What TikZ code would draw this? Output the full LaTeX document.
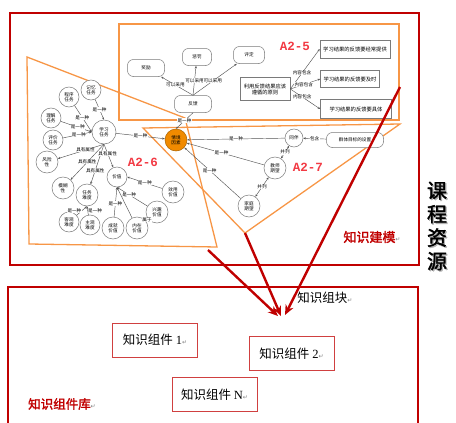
\documentclass[tikz,border=0pt]{standalone}
\usepackage{fontspec}
\setmainfont{Noto Sans CJK SC}
\newfontfamily\numfont{Liberation Serif}
\newfontfamily\tagfont{Liberation Mono}
\newfontfamily\boldcjk{Noto Sans CJK SC}[FakeBold=2]
\newfontfamily\symfont{DejaVu Sans}
\usetikzlibrary{arrows.meta,backgrounds}

\definecolor{frame}{HTML}{C00000}
\definecolor{zone}{HTML}{F79646}
\definecolor{tagred}{HTML}{F23A44}
\definecolor{hub}{HTML}{F08A00}
\definecolor{edgegray}{HTML}{555555}
\definecolor{ringgray}{HTML}{7A7A7A}

\newcommand\nodefont{\fontsize{4.6}{5.3}\selectfont}
\newcommand\boxfont{\fontsize{5.3}{6}\selectfont}
\newcommand\retmark{{\symfont\color{gray}\fontsize{6}{6}\selectfont ↵}}

\tikzset{
  circ/.style={circle, draw=ringgray, line width=0.5pt, minimum size=#1,
    inner sep=0pt, align=center, font=\nodefont, fill=white},
  pill/.style={draw=ringgray, rounded corners=6pt, line width=0.5pt,
    minimum width=#1, minimum height=17pt, inner sep=0pt, font=\nodefont, fill=white},
  sbox/.style={draw=ringgray, line width=0.6pt, minimum width=#1,
    minimum height=18pt, inner sep=0pt, align=center, font=\boxfont, fill=white},
  comp/.style={draw=frame!75, line width=0.8pt, minimum width=85pt,
    minimum height=34pt, inner sep=0pt, font=\fontsize{12.5}{13}\selectfont},
  lbl/.style={fill=white, inner sep=0.3pt, font=\nodefont},
  rel/.style={draw=edgegray, line width=0.45pt, -{Stealth[length=2.6pt,width=2.1pt]}},
  relb/.style={draw=edgegray, line width=0.45pt,
    {Stealth[length=2.6pt,width=2.1pt]}-{Stealth[length=2.6pt,width=2.1pt]}},
  bigarrow/.style={draw=frame, line width=2.4pt, -{Stealth[length=10pt,width=8.5pt]}},
  zoneline/.style={draw=zone, line width=1.3pt},
  tag/.style={text=tagred, font=\tagfont\bfseries\fontsize{12.5}{12.5}\selectfont},
}

\begin{document}
\begin{tikzpicture}[x=1pt,y=-1pt]
\useasboundingbox (0,0) rectangle (456,423);

% ---------- feedback cluster (A2-5) ----------
\node[pill=37pt] (jl) at (146,68) {奖励};
\node[pill=29pt] (cf) at (197,57) {惩罚};
\node[pill=31pt] (pd) at (249,55) {评定};
\node[pill=37pt] (fk) at (193,104) {反馈};
\node[sbox=50pt, minimum height=23pt] (yz) at (265,89) {利用反馈结果应该\\遵循的原则};
\node[sbox=70pt] (b1) at (355,49) {学习结果的反馈要经常提供};
\node[sbox=59pt, minimum height=17pt] (b2) at (350,79) {学习结果的反馈要及时};
\node[sbox=71pt, minimum height=19pt] (b3) at (356,109) {学习结果的反馈要具体};
\node[tag] (t5) at (295,46) {A2-5};

\draw[rel] (fk.north) -- node[lbl,pos=0.55]{可以采用} (jl);
\draw[rel] (fk.north) -- node[lbl,pos=0.5]{可以采用} (cf);
\draw[rel] (fk.north) -- node[lbl,pos=0.45]{可以采用} (pd);
\draw[rel] (yz.east) -- node[lbl,pos=0.4]{内容包含} (b1.west);
\draw[rel] (yz.east) -- node[lbl,pos=0.45]{内容包含} (b2.west);
\draw[rel] (yz.east) -- node[lbl,pos=0.4]{内容包含} (b3.west);

% ---------- learning task cluster (A2-6) ----------
\node[circ=24pt] (task) at (104,132) {学习\\任务};
\node[circ=20pt] (jiyi) at (91,90) {记忆\\任务};
\node[circ=20pt] (chengxu) at (69,97) {程序\\任务};
\node[circ=20pt] (lijie) at (51,118) {理解\\任务};
\node[circ=20pt] (pingjia) at (53,140) {评价\\任务};
\node[circ=22pt] (fengxian) at (47,162) {风险\\性};
\node[circ=22pt] (mohu) at (63,188) {模糊\\性};
\node[circ=22pt] (nandu) at (87,195) {任务\\难度};
\node[circ=20pt] (keguan) at (69,222) {客观\\难度};
\node[circ=20pt] (zhuguan) at (90,225) {主观\\难度};
\node[circ=20pt] (jiazhi) at (117,177) {价值};
\node[circ=22pt] (xiaoyong) at (173,192) {效用\\价值};
\node[circ=22pt] (xingqu) at (157,212) {兴趣\\价值};
\node[circ=22pt] (neizai) at (137,228) {内在\\价值};
\node[circ=22pt] (chengjiu) at (113,228) {成就\\价值};
\node[circ=22pt, fill=hub, draw=hub!70!black] (qj) at (176,140) {情境\\因素};
\node[tag] (t6) at (143,162) {A2-6};

\draw[rel] (jiyi) -- node[lbl]{是一种} (task.north);
\draw[rel] (chengxu) -- node[lbl,pos=0.45]{是一种} (task.west);
\draw[rel] (lijie) -- node[lbl,pos=0.55]{是一种} (task.west);
\draw[rel] (pingjia) -- node[lbl,pos=0.55]{是一种} (task.west);
\draw[rel] (task.south) -- node[lbl,pos=0.4]{具有属性} (fengxian);
\draw[rel] (task.south) -- node[lbl,pos=0.5]{具有属性} (mohu);
\draw[rel] (task.south) -- node[lbl,pos=0.65]{具有属性} (nandu);
\draw[rel] (task.south) -- node[lbl,pos=0.4]{具有属性} (jiazhi);
\draw[rel] (keguan) -- node[lbl,pos=0.5,anchor=east]{是一种} (nandu.south);
\draw[rel] (zhuguan) -- node[lbl,pos=0.5,anchor=west]{是一种} (nandu.south);
\draw[rel] (xiaoyong) -- node[lbl]{是一种} (jiazhi.east);
\draw[rel] (chengjiu) -- node[lbl,pos=0.45]{是一种} (jiazhi.south);
\draw[rel] (neizai) -- (jiazhi.south);
\draw[rel] (xingqu) -- node[lbl,pos=0.6]{是一种} (jiazhi.south);
\draw[rel] (neizai) -- node[lbl]{属于} (xingqu);
\draw[rel] (task) -- node[lbl]{是一种} (qj);
\draw[rel] (fk.south) -- node[lbl]{是一种} (qj.north);

% ---------- social expectation cluster (A2-7) ----------
\node[circ=18pt] (tb) at (294,138) {同伴};
\node[circ=22pt] (js) at (275,168) {教师\\期望};
\node[circ=22pt] (jt) at (249,206) {家庭\\期望};
\node[pill=57pt, minimum height=15pt] (qt) at (355,140) {群体目标的设置};
\node[tag] (t7) at (308,167) {A2-7};

\draw[rel] (tb) -- node[lbl]{是一种} (qj);
\draw[rel] (js) -- node[lbl,pos=0.55]{是一种} (qj);
\draw[rel] (jt) -- node[lbl,pos=0.55]{是一种} (qj);
\draw[rel] (qt) -- node[lbl]{包含} (tb);
\draw[relb] (js) -- node[lbl]{并列} (tb);
\draw[relb] (jt) -- node[lbl]{并列} (js);

% ---------- captions ----------
\node[text=frame, font=\boldcjk\fontsize{13}{13}\selectfont] (jm) at (372,237) {知识建模\retmark};
\node[align=center, text=gray!60, font=\boldcjk\fontsize{20}{23.5}\selectfont] (kcs) at (438.2,227.2) {课\\程\\资\\源};
\node[align=center, font=\boldcjk\fontsize{20}{23.5}\selectfont] (kc) at (437,226) {课\\程\\资\\源};

% ---------- component library ----------
\node[font=\fontsize{12.5}{13}\selectfont] (zk) at (325,298) {知识组块\retmark};
\node[comp] (c1) at (155,340) {知识组件 {\numfont 1}\retmark};
\node[comp] (c2) at (291.5,353.5) {知识组件 {\numfont 2}\retmark};
\node[comp] (cn) at (214.5,394.5) {知识组件 {\numfont N}\retmark};
\node[text=frame, font=\boldcjk\fontsize{12.5}{13}\selectfont] (lib) at (62,404) {知识组件库\retmark};

% ---------- frames and arrows ----------
\begin{scope}[on background layer]
  \draw[frame, line width=2.6pt] (10,13) rectangle (419,265);
  \draw[frame, line width=2.6pt] (8,430) -- (8,287) -- (418,287) -- (418,430);
  \draw[zoneline] (119,24) rectangle (399,120);
  \draw[zoneline] (27,57) -- (185,118) -- (217,247) -- (29,244) -- cycle;
  \draw[zoneline] (143,128) -- (400,124) -- (245,233) -- cycle;
\end{scope}

\coordinate (s1) at (208,250);
\coordinate (s2) at (245,233);
\coordinate (s3) at (400,87);
\coordinate (e1) at (278,316);
\coordinate (e2) at (281,316);
\coordinate (e3) at (285,315);
\draw[bigarrow] (s1) -- (e1);
\draw[bigarrow] (s2) -- (e2);
\draw[bigarrow] (s3) -- (e3);
\end{tikzpicture}
\end{document}
